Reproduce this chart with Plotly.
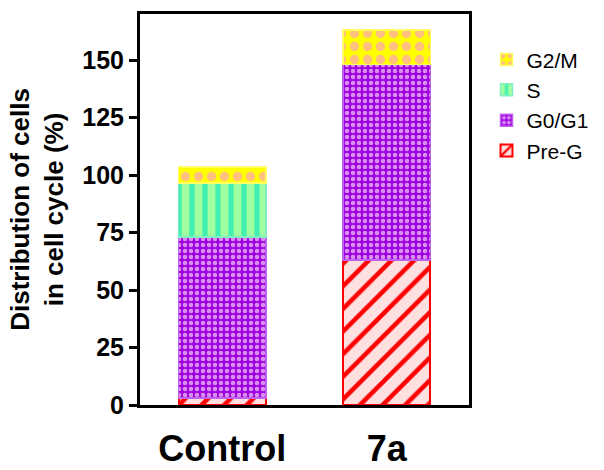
import plotly.graph_objects as go

categories = ["Control", "7a"]
pre_g = [3, 63]
g0_g1 = [70, 85]
s_phase = [23.5, 0]
g2_m = [7, 15]
y_ticks = [0, 25, 50, 75, 100, 125, 150]

fig = go.Figure()
fig.add_trace(go.Bar(
    x=categories, y=pre_g, name="Pre-G",
    marker=dict(color="#ffe0e0", line=dict(color="#ff0000", width=2),
                pattern=dict(shape="/", fgcolor="#ff0000", bgcolor="#ffe0e0",
                             size=16, solidity=0.28, fillmode="replace")),
))
fig.add_trace(go.Bar(
    x=categories, y=g0_g1, name="G0/G1",
    marker=dict(color="#a000e0", line=dict(color="#c060f0", width=1.5),
                pattern=dict(shape=".", fgcolor="#d890f0", bgcolor="#a000e0",
                             size=6, solidity=0.45, fillmode="replace")),
))
fig.add_trace(go.Bar(
    x=categories, y=s_phase, name="S",
    marker=dict(color="#40f0b0", line=dict(color="#80f0c0", width=1.5),
                pattern=dict(shape="|", fgcolor="#a0ffa0", bgcolor="#40f0b0",
                             size=13, solidity=0.6, fillmode="replace")),
))
fig.add_trace(go.Bar(
    x=categories, y=g2_m, name="G2/M",
    marker=dict(color="#ffff00", line=dict(color="#ffff60", width=1.5),
                pattern=dict(shape=".", fgcolor="#ffc080", bgcolor="#ffff00",
                             size=13, solidity=0.4, fillmode="replace")),
))

fig.update_layout(
    barmode="stack",
    bargap=0.47,
    width=604, height=470,
    margin=dict(l=140, r=134, t=14, b=65),
    plot_bgcolor="white", paper_bgcolor="white",
    font=dict(family="Arial, Liberation Sans, sans-serif", color="black"),
    showlegend=True,
    legend=dict(x=1.05, y=0.935, xanchor="left", yanchor="top",
                traceorder="reversed", font=dict(size=21),
                bgcolor="rgba(0,0,0,0)", tracegroupgap=0),
)
fig.update_xaxes(
    automargin=False,
    showline=True, linecolor="black", linewidth=3, mirror=True,
    ticks="", tickfont=dict(size=36, weight="bold"),
    ticklabelstandoff=10,
)
fig.update_yaxes(
    automargin=False,
    range=[0, 170], tickvals=y_ticks, showgrid=False, zeroline=False,
    showline=True, linecolor="black", linewidth=3, mirror=True,
    ticks="outside", ticklen=8, tickwidth=3, tickcolor="black",
    tickfont=dict(size=25, weight="bold"),
    title=dict(text="<b>Distribution of cells<br>in cell cycle (%)</b>",
               font=dict(size=26), standoff=12),
)

fig.write_html("out.html", config={"displayModeBar": False},
               post_script="document.body.style.margin='0px';")
